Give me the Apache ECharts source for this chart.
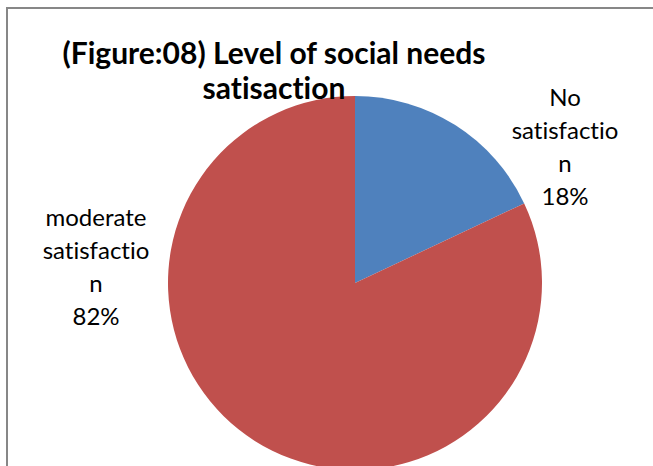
<!DOCTYPE html>
<html>
<head>
<meta charset="utf-8">
<script src="https://cdn.jsdelivr.net/npm/echarts@6/dist/echarts.min.js"></script>
<style>
  html, body { margin: 0; padding: 0; background: #fff; }
  #frame {
    position: absolute; left: 6px; top: 7px; width: 660px; height: 470px;
    border-left: 2px solid #878787; border-top: 2px solid #878787;
    pointer-events: none;
  }
  #chart { position: absolute; left: 0; top: 0; width: 653px; height: 466px; }
  #chart text { font-variant-ligatures: none; font-feature-settings: "liga" 0, "clig" 0; }
</style>
</head>
<body>
<div id="chart"></div>
<div id="frame"></div>
<script>
// Level of social needs satisfaction
const categories = ['No satisfaction', 'moderate satisfaction'];
const values = [18, 82];
const colors = ['#4F81BD', '#C0504D'];

// Spreadsheet-style wrapping: at most 11 characters per line
function wrap(text, max) {
  const lines = [];
  let cur = '';
  text.split(' ').forEach(word => {
    while (word.length > max) {
      if (cur) { lines.push(cur); cur = ''; }
      lines.push(word.slice(0, max));
      word = word.slice(max);
    }
    if (!cur) cur = word;
    else if ((cur + ' ' + word).length <= max) cur += ' ' + word;
    else { lines.push(cur); cur = word; }
  });
  if (cur) lines.push(cur);
  return lines.join('\n');
}

const labelSpots = [
  { x: 565, y: 146 },
  { x: 96, y: 266 }
];

const chart = echarts.init(document.getElementById('chart'), null, { renderer: 'svg' });
chart.setOption({
  animation: false,
  title: {
    text: '(Figure:08) Level of social needs\nsatisaction',
    left: 269,
    top: 29,
    textAlign: 'center',
    textStyle: {
      fontFamily: 'Lato',
      fontWeight: 'bold',
      fontSize: 30,
      lineHeight: 35,
      color: '#000'
    }
  },
  series: [{
    type: 'pie',
    center: [355, 283],
    radius: 187,
    startAngle: 90,
    clockwise: true,
    silent: true,
    percentPrecision: 0,
    data: categories.map((c, i) => ({ name: c, value: values[i], itemStyle: { color: colors[i] } })),
    itemStyle: { borderWidth: 0 },
    labelLine: { show: false },
    label: {
      show: true,
      position: 'outside',
      formatter: p => wrap(p.name, 11) + '\n' + p.percent + '%',
      fontFamily: 'Lato',
      fontSize: 24,
      lineHeight: 33,
      color: '#000',
      align: 'center'
    },
    labelLayout: p => ({
      x: labelSpots[p.dataIndex].x,
      y: labelSpots[p.dataIndex].y,
      align: 'center',
      verticalAlign: 'middle'
    })
  }]
});
</script>
</body>
</html>
